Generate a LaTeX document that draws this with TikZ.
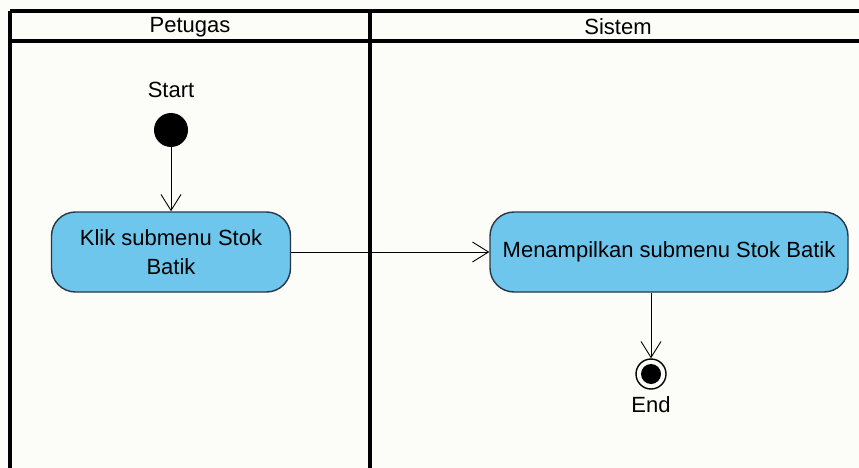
\documentclass[tikz,border=0pt]{standalone}
\usepackage{fontspec}
\setmainfont{Liberation Sans}
\usetikzlibrary{arrows.meta, positioning}

\definecolor{actfill}{RGB}{110,198,236}
\definecolor{actdraw}{RGB}{40,55,70}
\definecolor{paper}{RGB}{252,253,248}

\begin{document}
\begin{tikzpicture}[
    x=1pt, y=-1pt,
    lane/.style={draw, line width=3.2pt},
    action/.style={rectangle, rounded corners=24pt, draw=actdraw, line width=1.4pt, fill=actfill, align=center, minimum height=80pt, inner sep=4pt, font=\fontsize{22}{29}\selectfont},
    startdot/.style={circle, fill=black, minimum size=34pt, inner sep=0pt},
    enddot/.style={circle, draw, line width=1.4pt, minimum size=30pt, inner sep=0pt, path picture={\fill (path picture bounding box.center) circle (10pt);}},
    lbl/.style={font=\fontsize{22}{24}\selectfont, inner sep=1pt},
    arrow/.style={-{Straight Barb[length=16pt, width=20pt]}, line width=0.9pt}
]
\clip (0,0) rectangle (859,468);
\fill[paper] (0,0) rectangle (859,468);

% Swimlanes
\draw[lane] (10,11) -- (870,11);
\draw[lane] (10,41) -- (870,41);
\draw[lane] (10,11) -- (10,480);
\draw[lane] (370,11) -- (370,480);
\node[lbl] (petugas) at (190,27) {Petugas};
\node[lbl] (sistem) at (618,27) {Sistem};

% Petugas
\node[startdot] (start) at (171,130) {};
\node[lbl, above=14pt of start] (starttxt) {Start};
\node[action, minimum width=239pt] (klik) at (171,252) {Klik submenu Stok\\Batik};

% Sistem
\node[action, minimum width=358pt] (tampil) at (669,252) {Menampilkan submenu Stok Batik};
\node[enddot] (end) at (651,374) {};
\node[lbl, below=6pt of end] (endtxt) {End};

% Arrows
\draw[arrow] (start) -- (klik);
\draw[arrow] (klik) -- (tampil);
\draw[arrow] (tampil.south -| end) -- (end);

\end{tikzpicture}
\end{document}
